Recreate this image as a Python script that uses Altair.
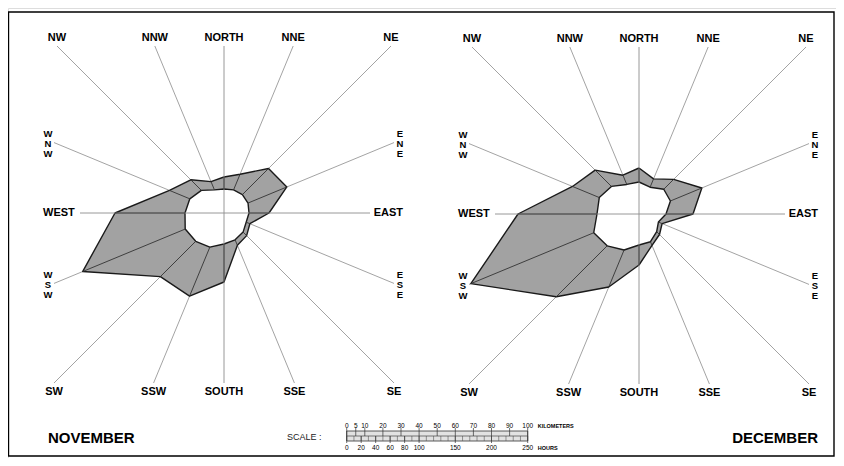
import math
import pandas as pd
import altair as alt

# ---------------- data ----------------
DIRECTIONS = ["NORTH", "NNE", "NE", "ENE", "EAST", "ESE", "SE", "SSE",
              "SOUTH", "SSW", "SW", "WSW", "WEST", "WNW", "NW", "NNW"]
ANGLES = [22.5 * i for i in range(16)]  # clockwise from north

MONTHS = ["NOVEMBER", "DECEMBER"]
# outer / inner boundary distances (scale units) along each direction
NOV_OUTER = [36, 42, 63, 68, 45, 28, 32, 35, 69, 90, 90, 153, 109, 59, 47, 34]
NOV_INNER = [24, 25, 26, 26, 25, 24, 27, 29, 31, 37, 40, 42, 39, 37, 32, 25]
DEC_OUTER = [46, 38, 49, 68, 54, 25, 29, 34, 51, 79, 117, 182, 121, 72, 62, 42]
DEC_INNER = [32, 29, 35, 34, 27, 21, 25, 30, 31, 39, 45, 49, 42, 43, 39, 32]

KM_TICKS = [0, 5, 10, 20, 30, 40, 50, 60, 70, 80, 90, 100]
HOUR_TICKS = [0, 20, 40, 60, 80, 100, 150, 200, 250]
HOURS_PER_KM = 2.5

# ---------------- layout ----------------
W, H = 828, 450
CENTER = {"NOVEMBER": (224, 213), "DECEMBER": (639, 214)}
HALF_TOP, HALF_BOTTOM, HALF_SIDE = 167, 170, 170
FONT = "Liberation Sans"

SX = alt.Scale(domain=[8, 8 + W], nice=False, zero=False)
SY = alt.Scale(domain=[8, 8 + H], nice=False, zero=False, reverse=True)


def X(f="x"):
    return alt.X(f"{f}:Q", scale=SX, axis=None)


def Y(f="y"):
    return alt.Y(f"{f}:Q", scale=SY, axis=None)


def unit(a):
    r = math.radians(a)
    return math.sin(r), -math.cos(r)


def square_end(cx, cy, a):
    s, c = unit(a)
    if abs(c) >= abs(s) - 1e-9:
        t = (HALF_TOP if c < 0 else HALF_BOTTOM) / abs(c)
    else:
        t = HALF_SIDE / abs(s)
    return cx + t * s, cy + t * c


radii = {"NOVEMBER": (NOV_OUTER, NOV_INNER), "DECEMBER": (DEC_OUTER, DEC_INNER)}

poly_rows, div_rows, ray_rows, cross_rows = [], [], [], []
lab_c, lab_l, lab_r, lab_v = [], [], [], []
for m in MONTHS:
    cx, cy = CENTER[m]
    outer, inner = radii[m]
    for ring, vals in (("outer", outer), ("inner", inner)):
        for k in range(17):
            i = k % 16
            s, c = unit(ANGLES[i])
            poly_rows.append({"id": f"{m}-{ring}", "ring": ring, "order": k,
                              "x": cx + vals[i] * s, "y": cy + vals[i] * c})
    for i, (d, a) in enumerate(zip(DIRECTIONS, ANGLES)):
        s, c = unit(a)
        div_rows.append({"x": cx + inner[i] * s, "y": cy + inner[i] * c,
                         "x2": cx + outer[i] * s, "y2": cy + outer[i] * c})
        ex, ey = square_end(cx, cy, a)
        if d not in ("NORTH", "SOUTH", "EAST", "WEST"):
            ray_rows.append({"x": cx, "y": cy, "x2": ex, "y2": ey})
        # labels
        if d == "WEST":
            lab_l.append({"x": cx - 181, "y": cy, "t": d})
        elif d == "EAST":
            lab_r.append({"x": cx + 179, "y": cy, "t": d})
        elif d in ("WNW", "WSW", "ENE", "ESE"):
            lx = cx - 176 if d.startswith("W") else cx + 176
            lab_v.append({"x": lx, "y": ey - 13.5, "t": "\n".join(d)})
        elif ey < cy:
            lab_c.append({"x": ex, "y": ey - 8, "t": d})
        else:
            lab_c.append({"x": ex, "y": ey + 9, "t": d})
    # crosshair N-S and E-W
    cross_rows.append({"x": cx, "y": cy - HALF_TOP, "x2": cx, "y2": cy + HALF_BOTTOM})
    cross_rows.append({"x": cx - 144, "y": cy, "x2": cx + 146, "y2": cy})

poly = pd.DataFrame(poly_rows)
divs = pd.DataFrame(div_rows)
rays = pd.DataFrame(ray_rows)
cross = pd.DataFrame(cross_rows)

# ---------------- layers ----------------
frame = alt.Chart(pd.DataFrame([{"x": 8.5, "y": 12, "x2": 834, "y2": 456}])).mark_rect(
    filled=False, stroke="black", strokeWidth=1.4
).encode(x=X(), y=Y(), x2="x2:Q", y2="y2:Q")

ray_layer = alt.Chart(rays).mark_rule(color="#8c8c8c", strokeWidth=0.8).encode(
    x=X(), y=Y(), x2="x2:Q", y2="y2:Q")

outer_layer = alt.Chart(poly[poly.ring == "outer"]).mark_line(
    fill="#a2a2a2", stroke="#1a1a1a", strokeWidth=1.4, strokeJoin="round"
).encode(x=X(), y=Y(), order="order:Q", detail="id:N")

inner_layer = alt.Chart(poly[poly.ring == "inner"]).mark_line(
    fill="white", stroke="#1a1a1a", strokeWidth=1.4, strokeJoin="round"
).encode(x=X(), y=Y(), order="order:Q", detail="id:N")

cross_layer = alt.Chart(cross).mark_rule(color="#8c8c8c", strokeWidth=0.9).encode(
    x=X(), y=Y(), x2="x2:Q", y2="y2:Q")

div_layer = alt.Chart(divs).mark_rule(color="#333333", strokeWidth=0.9).encode(
    x=X(), y=Y(), x2="x2:Q", y2="y2:Q")

txt = dict(font=FONT, fontWeight="bold", fontSize=11, baseline="middle", color="black")
lab_center = alt.Chart(pd.DataFrame(lab_c)).mark_text(align="center", **txt).encode(
    x=X(), y=Y(), text="t:N")
lab_left = alt.Chart(pd.DataFrame(lab_l)).mark_text(align="left", **txt).encode(
    x=X(), y=Y(), text="t:N")
lab_right = alt.Chart(pd.DataFrame(lab_r)).mark_text(align="right", **txt).encode(
    x=X(), y=Y(), text="t:N")
lab_vert = alt.Chart(pd.DataFrame(lab_v)).mark_text(
    align="center", font=FONT, fontWeight="bold", fontSize=9.5, baseline="top",
    color="black", lineBreak="\n", lineHeight=10
).encode(x=X(), y=Y(), text="t:N")

titles = pd.DataFrame([{"x": 48, "y": 438, "t": MONTHS[0]}])
titles_r = pd.DataFrame([{"x": 818, "y": 438, "t": MONTHS[1]}])
title_l = alt.Chart(titles).mark_text(align="left", font=FONT, fontWeight="bold",
                                       fontSize=15, baseline="middle").encode(
    x=X(), y=Y(), text="t:N")
title_r = alt.Chart(titles_r).mark_text(align="right", font=FONT, fontWeight="bold",
                                         fontSize=15, baseline="middle").encode(
    x=X(), y=Y(), text="t:N")

# ---------------- scale bar ----------------
BX0, PXKM = 346.7, 1.81
BY0, BY1, BYM = 431, 441, 436
bar = alt.Chart(pd.DataFrame([{"x": BX0, "x2": BX0 + 100 * PXKM, "y": BY0, "y2": BY1}])).mark_rect(
    fill="#e2e2e2", stroke="#333333", strokeWidth=0.8).encode(x=X(), y=Y(), x2="x2:Q", y2="y2:Q")
mid = alt.Chart(pd.DataFrame([{"x": BX0, "x2": BX0 + 100 * PXKM, "y": BYM}])).mark_rule(
    color="#444444", strokeWidth=0.7).encode(x=X(), y=Y(), x2="x2:Q")

km_df = pd.DataFrame({"km": KM_TICKS})
km_df["x"] = BX0 + km_df["km"] * PXKM
km_df["y"], km_df["y2"], km_df["ly"] = BY0 - 3, BYM, BY0 - 5.5
km_df["t"] = km_df["km"].astype(str)
km_ticks = alt.Chart(km_df).mark_rule(color="#333333", strokeWidth=0.7).encode(
    x=X(), y=Y(), y2="y2:Q")
km_labels = alt.Chart(km_df).mark_text(font=FONT, fontSize=6.5, baseline="middle",
                                       color="black").encode(x=X(), y=Y("ly"), text="t:N")

minor = pd.DataFrame({"h": list(range(0, 251, 10))})
minor["x"] = BX0 + minor["h"] / HOURS_PER_KM * PXKM
minor["y"], minor["y2"] = BYM, BY1
minor_ticks = alt.Chart(minor).mark_rule(color="#555555", strokeWidth=0.6).encode(
    x=X(), y=Y(), y2="y2:Q")

hr_df = pd.DataFrame({"h": HOUR_TICKS})
hr_df["x"] = BX0 + hr_df["h"] / HOURS_PER_KM * PXKM
hr_df["y"], hr_df["y2"], hr_df["ly"] = BYM, BY1 + 2, BY1 + 6.5
hr_df["t"] = hr_df["h"].astype(str)
hr_ticks = alt.Chart(hr_df).mark_rule(color="#333333", strokeWidth=0.7).encode(
    x=X(), y=Y(), y2="y2:Q")
hr_labels = alt.Chart(hr_df).mark_text(font=FONT, fontSize=6.5, baseline="middle",
                                       color="black").encode(x=X(), y=Y("ly"), text="t:N")

units = pd.DataFrame([{"x": BX0 + 100 * PXKM + 10, "y": BY0 - 5.5, "t": "KILOMETERS"},
                      {"x": BX0 + 100 * PXKM + 10, "y": BY1 + 6.5, "t": "HOURS"}])
unit_labels = alt.Chart(units).mark_text(font=FONT, fontSize=5.5, fontWeight="bold",
                                         align="left", baseline="middle",
                                         color="black").encode(x=X(), y=Y(), text="t:N")
scale_word = alt.Chart(pd.DataFrame([{"x": 287, "y": 437, "t": "SCALE :"}])).mark_text(
    font=FONT, fontSize=9, align="left", baseline="middle", color="#222222").encode(
    x=X(), y=Y(), text="t:N")

chart = alt.layer(
    frame, ray_layer, outer_layer, inner_layer, cross_layer, div_layer,
    lab_center, lab_left, lab_right, lab_vert, title_l, title_r,
    bar, minor_ticks, mid, km_ticks, km_labels, hr_ticks, hr_labels, unit_labels, scale_word
).properties(
    width=W, height=H, padding=0, autosize=alt.AutoSizeParams(type="none")
).configure_view(strokeWidth=0).configure(background="white")

chart.save("out.html", embed_options={"renderer": "svg", "actions": False})
